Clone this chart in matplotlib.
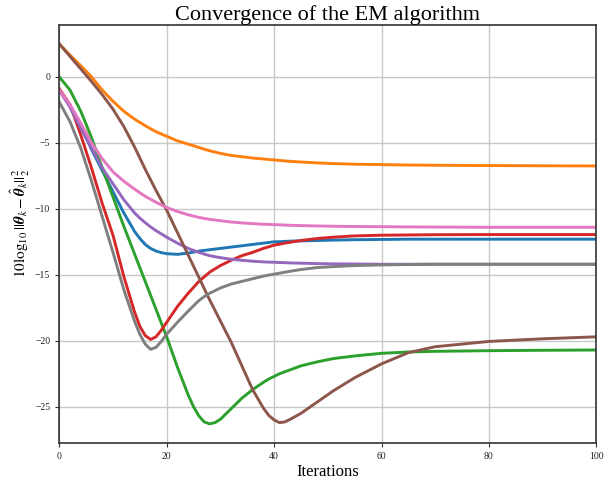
import matplotlib
matplotlib.use("Agg")
import matplotlib.pyplot as plt

plt.rcParams['font.family'] = ['Liberation Serif', 'DejaVu Serif']
plt.rcParams['mathtext.fontset'] = 'stix'

# ---- data ----
iterations = [0, 2, 4, 6, 8, 10, 12, 14, 15, 16, 17, 18, 19, 20, 22, 24, 25, 26, 27, 28,
              29, 30, 32, 34, 36, 38, 39, 40, 41, 42, 43, 45, 48, 51, 55, 60, 65, 70, 80,
              90, 100]

blue_y = [-1.0, -2.2, -3.7, -5.5, -7.1, -8.7, -10.3, -11.7, -12.25, -12.7, -13.0, -13.2,
          -13.32, -13.4, -13.45, -13.35, -13.28, -13.2, -13.15, -13.1, -13.05, -13.0,
          -12.9, -12.8, -12.7, -12.6, -12.55, -12.5, -12.49, -12.47, -12.45, -12.43,
          -12.4, -12.37, -12.34, -12.32, -12.3, -12.3, -12.3, -12.3, -12.3]

orange_y = [2.5, 1.65, 0.85, 0.0, -1.0, -1.85, -2.6, -3.2, -3.45, -3.7, -3.93, -4.15,
            -4.33, -4.5, -4.85, -5.1, -5.22, -5.35, -5.48, -5.6, -5.7, -5.8, -5.95, -6.05,
            -6.15, -6.22, -6.26, -6.3, -6.33, -6.37, -6.4, -6.45, -6.52, -6.57, -6.62,
            -6.65, -6.68, -6.7, -6.72, -6.74, -6.75]

green_y = [0.0, -1.0, -2.6, -4.6, -6.9, -9.1, -11.3, -13.4, -14.45, -15.5, -16.55, -17.6,
           -18.65, -19.7, -22.0, -24.1, -25.0, -25.7, -26.15, -26.3, -26.2, -25.95,
           -25.15, -24.35, -23.7, -23.15, -22.9, -22.7, -22.5, -22.35, -22.2, -21.9,
           -21.6, -21.35, -21.15, -20.95, -20.85, -20.8, -20.75, -20.72, -20.7]

red_y = [-0.9, -2.1, -4.4, -6.9, -9.6, -12.0, -15.1, -17.8, -18.9, -19.6, -19.9, -19.7,
         -19.2, -18.6, -17.4, -16.4, -15.95, -15.5, -15.15, -14.8, -14.55, -14.3, -13.9,
         -13.55, -13.3, -13.0, -12.88, -12.75, -12.68, -12.6, -12.53, -12.4, -12.25,
         -12.15, -12.05, -12.0, -11.98, -11.96, -11.95, -11.95, -11.95]

purple_y = [-1.0, -2.3, -3.9, -5.4, -6.9, -8.1, -9.3, -10.3, -10.7, -11.05, -11.37, -11.65,
            -11.9, -12.15, -12.6, -13.0, -13.15, -13.3, -13.43, -13.55, -13.63, -13.7,
            -13.82, -13.9, -13.97, -14.02, -14.04, -14.05, -14.07, -14.08, -14.1, -14.12,
            -14.15, -14.17, -14.18, -14.2, -14.2, -14.2, -14.2, -14.2, -14.2]

brown_y = [2.5, 1.55, 0.6, -0.35, -1.35, -2.45, -3.75, -5.3, -6.15, -7.0, -7.8, -8.6,
           -9.35, -10.1, -11.8, -13.5, -14.35, -15.2, -16.05, -16.9, -17.7, -18.5, -20.1,
           -21.9, -23.7, -25.1, -25.65, -26.0, -26.2, -26.15, -25.95, -25.5, -24.65,
           -23.8, -22.8, -21.75, -20.9, -20.45, -20.05, -19.85, -19.7]

pink_y = [-1.0, -2.1, -3.5, -5.0, -6.2, -7.2, -7.9, -8.5, -8.78, -9.05, -9.28, -9.5, -9.7,
          -9.9, -10.2, -10.45, -10.55, -10.65, -10.73, -10.8, -10.85, -10.9, -11.0,
          -11.07, -11.12, -11.17, -11.18, -11.2, -11.21, -11.23, -11.25, -11.27, -11.3,
          -11.32, -11.34, -11.35, -11.37, -11.38, -11.4, -11.4, -11.4]

gray_y = [-1.9, -3.4, -5.4, -7.9, -10.6, -13.3, -16.1, -18.5, -19.5, -20.25, -20.65, -20.5,
          -20.05, -19.5, -18.6, -17.75, -17.35, -16.95, -16.65, -16.4, -16.2, -16.0,
          -15.7, -15.5, -15.3, -15.1, -15.02, -14.95, -14.88, -14.8, -14.73, -14.6,
          -14.45, -14.38, -14.3, -14.25, -14.22, -14.2, -14.2, -14.2, -14.2]

series = [
    (blue_y, 'tab:blue'),
    (orange_y, 'tab:orange'),
    (green_y, 'tab:green'),
    (red_y, 'tab:red'),
    (purple_y, 'tab:purple'),
    (brown_y, 'tab:brown'),
    (pink_y, 'tab:pink'),
    (gray_y, 'tab:gray'),
]

title = 'Convergence of the EM algorithm'
xlabel = 'Iterations'
ylabel = r'$10\log_{10}||\boldsymbol{\theta}_k - \hat{\boldsymbol{\theta}}_k||_2^2$'

fig = plt.figure(figsize=(6.13, 4.83), dpi=100)
ax = fig.add_axes([0.0967, 0.0830, 0.8761, 0.8652])

for ys, c in series:
    ax.plot(iterations, ys, color=c, lw=2.1)

ax.set_xlim(0, 100)
ax.set_ylim(-27.74, 3.93)
ax.set_xticks([0, 20, 40, 60, 80, 100])
ax.set_yticks([-25, -20, -15, -10, -5, 0])
ax.grid(True, color='#c8c8c8', lw=1.0)
ax.set_axisbelow(True)
for s in ax.spines.values():
    s.set_color('#333333')
    s.set_linewidth(1.2)
ax.tick_params(labelsize=7, length=3, width=0.8, colors='#333333', labelcolor='#222222')

ax.set_title(title, fontsize=16, pad=3)
ax.set_xlabel(xlabel, fontsize=12, labelpad=2)
ax.set_ylabel(ylabel, fontsize=11)
ax.yaxis.set_label_coords(-0.05, 0.525)

fig.savefig('out.png', dpi=100)
